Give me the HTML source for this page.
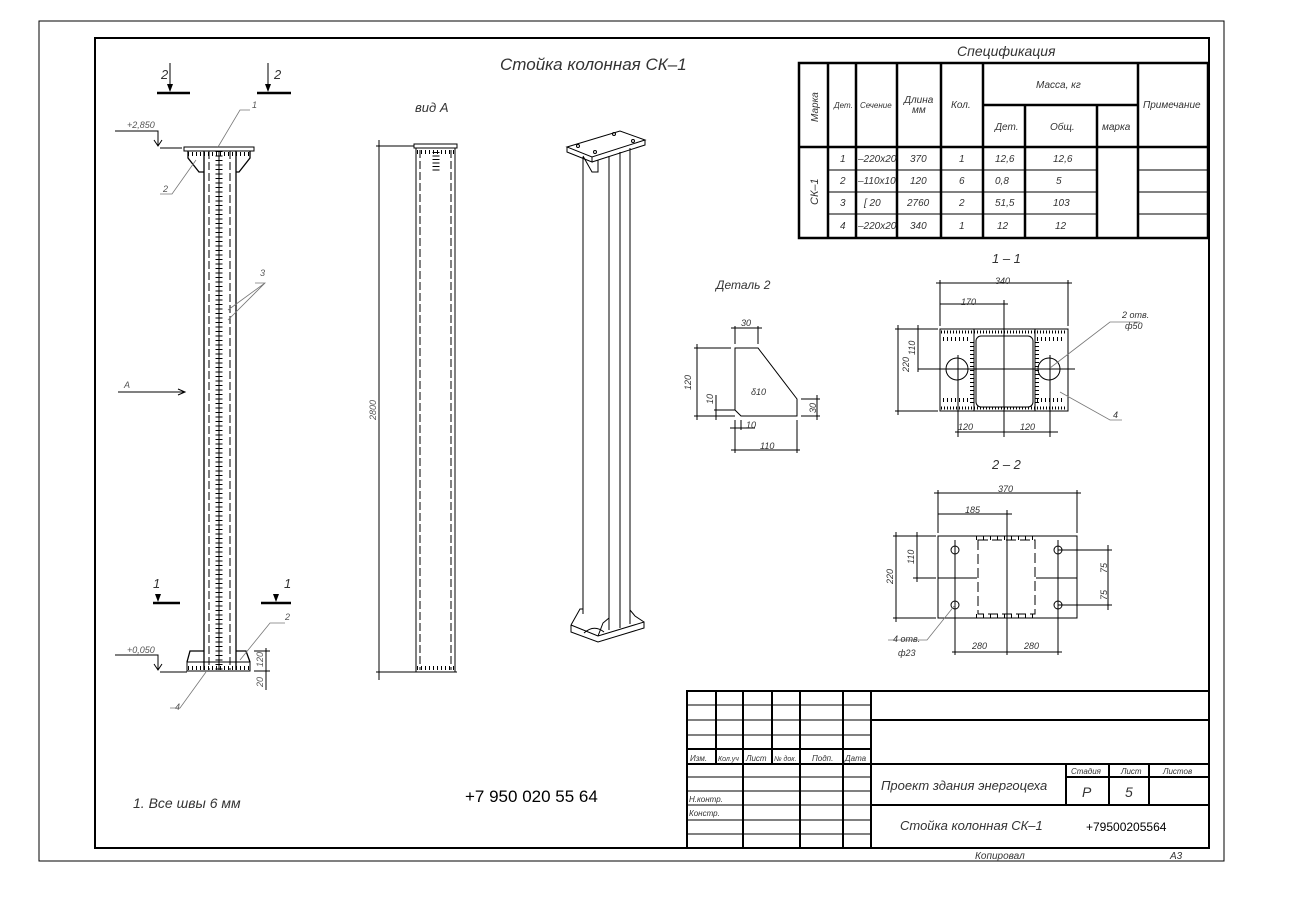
<!DOCTYPE html>
<html><head><meta charset="utf-8"><style>
body{margin:0;background:#fff}
svg{display:block}
text{font-family:"Liberation Sans",sans-serif;font-style:italic;fill:#333}
.t{stroke:#000;stroke-width:1;fill:none}
.k{stroke:#000;stroke-width:2.5;fill:none}
.g{stroke:#777;stroke-width:0.8;fill:none}
.d{stroke:#000;stroke-width:1;fill:none;stroke-dasharray:8 3}
.dim{font-size:9px;fill:#555}
</style></head><body>
<svg width="1306" height="916" viewBox="0 0 1306 916" xmlns="http://www.w3.org/2000/svg">
<rect x="39" y="21" width="1185" height="840" class="t"/>
<rect x="95" y="38" width="1114" height="810" class="k" style="stroke-width:2"/>
<text x="975" y="859" font-size="10">Копировал</text>
<text x="1170" y="859" font-size="10">А3</text>

<text x="500" y="70" font-size="17">Стойка колонная СК–1</text>

<text x="957" y="56" font-size="14">Спецификация</text>
<g class="k">
<rect x="799" y="63" width="409" height="175"/>
<line x1="828" y1="63" x2="828" y2="238"/><line x1="856" y1="63" x2="856" y2="238"/>
<line x1="897" y1="63" x2="897" y2="238"/><line x1="941" y1="63" x2="941" y2="238"/>
<line x1="983" y1="63" x2="983" y2="238"/><line x1="1138" y1="63" x2="1138" y2="238"/>
<line x1="1025" y1="105" x2="1025" y2="238"/><line x1="1097" y1="105" x2="1097" y2="238"/>
<line x1="983" y1="105" x2="1138" y2="105"/>
<line x1="799" y1="147" x2="1208" y2="147"/>
</g>
<g class="t">
<line x1="828" y1="170" x2="1097" y2="170"/><line x1="828" y1="192" x2="1097" y2="192"/><line x1="828" y1="214" x2="1097" y2="214"/>
<line x1="1138" y1="170" x2="1208" y2="170"/><line x1="1138" y1="192" x2="1208" y2="192"/><line x1="1138" y1="214" x2="1208" y2="214"/>
</g>
<g font-size="10">
<text transform="translate(818,122) rotate(-90)">Марка</text>
<text x="834" y="108" font-size="8">Дет.</text>
<text x="860" y="108" font-size="8">Сечение</text>
<text x="904" y="103">Длина</text><text x="912" y="113">мм</text>
<text x="951" y="108">Кол.</text>
<text x="1036" y="88">Масса, кг</text>
<text x="995" y="130">Дет.</text><text x="1050" y="130">Общ.</text><text x="1102" y="130">марка</text>
<text x="1143" y="108">Примечание</text>
<text transform="translate(818,205) rotate(-90)" font-size="11">СК–1</text>
<text x="840" y="162">1</text><text x="858" y="162">–220х20</text><text x="910" y="162">370</text><text x="959" y="162">1</text><text x="995" y="162">12,6</text><text x="1053" y="162">12,6</text>
<text x="840" y="184">2</text><text x="858" y="184">–110х10</text><text x="910" y="184">120</text><text x="959" y="184">6</text><text x="995" y="184">0,8</text><text x="1056" y="184">5</text>
<text x="840" y="206">3</text><text x="864" y="206">[ 20</text><text x="907" y="206">2760</text><text x="959" y="206">2</text><text x="995" y="206">51,5</text><text x="1053" y="206">103</text>
<text x="840" y="229">4</text><text x="858" y="229">–220х20</text><text x="910" y="229">340</text><text x="959" y="229">1</text><text x="997" y="229">12</text><text x="1055" y="229">12</text>
</g>

<!-- Main column -->
<g class="t">
<path d="M170 63 V91"/><path d="M268 63 V91"/>
<path d="M158 594 V601"/><path d="M276 594 V601"/>
<path d="M115 131 H158 V145" /><path d="M115 655 H158 V669"/>
<path d="M154 140 L158 146 L162 140 M154 664 L158 670 L162 664"/>
<line x1="160" y1="148" x2="182" y2="148"/><line x1="160" y1="672" x2="187" y2="672"/>
<rect x="184" y="147" width="70" height="4"/>
<path d="M188 151 V158 L199 172 H204 M250 151 V158 L239 172 H236" stroke-width="1.3"/>
<line x1="204" y1="151" x2="204" y2="670" stroke-width="1.3"/><line x1="236" y1="151" x2="236" y2="670" stroke-width="1.3"/>
<line x1="219" y1="151" x2="219" y2="670"/>
<path d="M187 662 L190 651 H204 M250 662 L246 651 H236" stroke-width="1.3"/>
<rect x="187" y="662" width="63" height="9"/>
</g>
<g stroke="#000" stroke-width="2.5">
<line x1="157" y1="93" x2="190" y2="93"/><line x1="257" y1="93" x2="291" y2="93"/>
<line x1="153" y1="603" x2="180" y2="603"/><line x1="261" y1="603" x2="291" y2="603"/>
</g>
<g fill="#000"><path d="M167 84 L173 84 L170 92 Z"/><path d="M265 84 L271 84 L268 92 Z"/><path d="M155 594 L161 594 L158 602 Z"/><path d="M273 594 L279 594 L276 602 Z"/></g>
<path d="M219 151 V670" stroke="#000" stroke-width="7" stroke-dasharray="1 3.5" fill="none"/>
<line class="d" x1="209" y1="151" x2="209" y2="670"/><line class="d" x1="230" y1="151" x2="230" y2="670"/>
<path d="M188 154 H250" stroke="#000" stroke-width="4" stroke-dasharray="1 3" fill="none"/>
<path d="M188 668 H250" stroke="#000" stroke-width="4" stroke-dasharray="1 3" fill="none"/>
<g class="g">
<path d="M250 110 H240 L218 147"/><path d="M160 194 H172 L196 160"/>
<path d="M255 283 H265 L228 320 M265 283 L228 310"/>
<path d="M285 623 H270 L240 660"/><path d="M170 708 H180 L206 672"/>
</g>
<text class="dim" x="252" y="108">1</text><text class="dim" x="163" y="192">2</text><text class="dim" x="260" y="276">3</text>
<text class="dim" x="285" y="620">2</text><text class="dim" x="175" y="710">4</text>
<text class="dim" x="127" y="128">+2,850</text><text class="dim" x="127" y="653">+0,050</text>
<g font-size="13" fill="#000"><text x="161" y="79">2</text><text x="274" y="79">2</text><text x="153" y="588">1</text><text x="284" y="588">1</text></g>
<path d="M118 392 H184 M178 389 L185 392 L178 395" class="t"/><text class="dim" x="124" y="388" font-size="10">A</text>
<path d="M254 651 H270 M254 671 H270 M266 648 V690" class="t"/>
<text class="dim" transform="translate(263,667) rotate(-90)">120</text>
<text class="dim" transform="translate(263,687) rotate(-90)">20</text>

<!-- View A -->
<text x="415" y="112" font-size="13">вид А</text>
<g class="t">
<path d="M376 146 H414 M376 672 H414 M379 140 V680"/>
<rect x="414" y="144" width="43" height="4"/>
<line x1="416" y1="148" x2="416" y2="672"/><line x1="455" y1="148" x2="455" y2="672"/>
<line x1="414" y1="672" x2="457" y2="672"/>
</g>
<line class="d" x1="420" y1="150" x2="420" y2="670"/><line class="d" x1="451" y1="150" x2="451" y2="670"/>
<path d="M436 152 V172" stroke="#000" stroke-width="7" stroke-dasharray="1 2.5" fill="none"/>
<path d="M417 152 H454 M417 668 H454" stroke="#000" stroke-width="4" stroke-dasharray="1 3" fill="none"/>
<text class="dim" transform="translate(376,420) rotate(-90)">2800</text>

<!-- 3D view -->
<g class="t">
<path d="M567 147 L620 131 L645 140 L592 157 Z M567 147 V152 L592 162 V157 M592 162 L645 145 V140"/>
<circle cx="578" cy="146" r="1.5"/><circle cx="595" cy="152" r="1.5"/><circle cx="614" cy="134" r="1.5"/><circle cx="633" cy="141" r="1.5"/>
<path d="M583 157 V614 M609 156 V630 M620 152 V628 M630 148 V624"/>
<path d="M583 156 L592 172 L598 172 V160"/>
<path d="M571 625 L580 609 H583 M571 625 V632 L598 642 L644 628 V622 L598 636 L571 625"/>
<path d="M598 636 L603 623 L609 618 M630 610 L635 616 L644 622"/>
<path d="M584 633 Q594 624 604 632"/>
</g>

<!-- Detail 2 -->
<text x="716" y="289" font-size="12">Деталь 2</text>
<g class="t">
<path d="M735 348 H758 L797 399 V416 H741 L735 410 Z"/>
<path d="M735 344 V326 M758 344 V326 M731 328 H762"/>
<path d="M694 348 H731 M697 344 V420 M694 416 H735 M714 410 H735 M716 395 V420"/>
<path d="M801 399 H820 M801 416 H820 M817 395 V420"/>
<path d="M735 420 V453 M797 420 V453 M731 450 H800"/>
<path d="M741 420 V430 M730 428 H755"/>
</g>
<g class="dim"><text x="741" y="326">30</text><text transform="translate(691,390) rotate(-90)">120</text>
<text transform="translate(713,404) rotate(-90)">10</text><text x="746" y="428">10</text><text x="751" y="395">δ10</text>
<text transform="translate(816,413) rotate(-90)">30</text><text x="760" y="449">110</text></g>

<!-- Section 1-1 -->
<text x="992" y="263" font-size="13">1 – 1</text>
<g class="t">
<rect x="940" y="329" width="128" height="82"/>
<rect x="976" y="336" width="57" height="71" rx="5"/>
<line x1="974" y1="329" x2="974" y2="411"/><line x1="1035" y1="329" x2="1035" y2="411"/>
<circle cx="957" cy="369" r="11"/><circle cx="1049" cy="369" r="11"/>
<path d="M918 369 H1075 M958 355 V437 M1004 300 V437 M1050 355 V437"/>
<path d="M940 326 V280 M1068 326 V280 M936 283 H1072 M940 304 H1008"/>
<path d="M895 329 H938 M895 411 H938 M898 325 V415 M918 325 V372 M914 329 H938"/>
<path d="M955 432 H1058"/>
</g>
<path d="M941 332 H1067 M941 408 H1067" stroke="#000" stroke-width="3" stroke-dasharray="1 2" fill="none"/>
<path d="M943 339 H970 M1037 339 H1065 M943 400 H970 M1037 400 H1065" stroke="#000" stroke-width="4" stroke-dasharray="1 3" fill="none"/>
<path d="M972 342 V405 M1037 342 V405" stroke="#000" stroke-width="4" stroke-dasharray="1 3" fill="none"/>
<path class="g" d="M1050 368 L1110 322 H1140 M1060 392 L1110 420 H1122"/>
<g class="dim"><text x="995" y="284">340</text><text x="961" y="305">170</text><text transform="translate(909,372) rotate(-90)">220</text>
<text transform="translate(915,355) rotate(-90)">110</text><text x="958" y="430">120</text><text x="1020" y="430">120</text>
<text x="1122" y="318">2 отв.</text><text x="1125" y="329">ф50</text><text x="1113" y="418">4</text></g>

<!-- Section 2-2 -->
<text x="992" y="469" font-size="13">2 – 2</text>
<g class="t">
<rect x="938" y="536" width="139" height="82"/>
<path d="M978 540 H1035 V614 H978 Z" stroke-dasharray="10 4"/>
<line x1="938" y1="578" x2="977" y2="578"/><line x1="1036" y1="578" x2="1077" y2="578"/>
<circle cx="955" cy="550" r="4"/><circle cx="1058" cy="550" r="4"/><circle cx="955" cy="605" r="4"/><circle cx="1058" cy="605" r="4"/>
<path d="M955 540 V655 M1007 510 V655 M1058 540 V655 M1058 550 H1112 M1058 605 H1112 M1108 545 V610"/>
<path d="M938 533 V490 M1077 533 V490 M934 493 H1081 M938 514 H1012"/>
<path d="M893 536 H936 M893 618 H936 M896 532 V622 M917 532 V582 M913 578 H936"/>
<path d="M952 652 H1062"/>
</g>
<path d="M976 538 H1037 M976 616 H1037" stroke="#000" stroke-width="4" stroke-dasharray="1 6" fill="none"/>
<path class="g" d="M955 605 L927 640 H888"/>
<g class="dim"><text x="998" y="492">370</text><text x="965" y="513">185</text><text transform="translate(893,584) rotate(-90)">220</text>
<text transform="translate(914,564) rotate(-90)">110</text><text x="972" y="649">280</text><text x="1024" y="649">280</text>
<text transform="translate(1107,573) rotate(-90)">75</text><text transform="translate(1107,600) rotate(-90)">75</text>
<text x="893" y="642">4 отв.</text><text x="898" y="656">ф23</text></g>

<text x="133" y="808" font-size="14" fill="#222">1.  Все швы 6 мм</text>
<text x="465" y="802" font-size="17" style="font-style:normal;fill:#000">+7 950 020 55 64</text>

<!-- Title block -->
<g class="k" style="stroke-width:2">
<rect x="687" y="691" width="522" height="157"/>
<line x1="871" y1="691" x2="871" y2="848"/>
<line x1="871" y1="720" x2="1209" y2="720"/><line x1="871" y1="764" x2="1209" y2="764"/><line x1="871" y1="805" x2="1209" y2="805"/>
<line x1="1066" y1="764" x2="1066" y2="805"/><line x1="1066" y1="777" x2="1209" y2="777"/>
<line x1="1109" y1="764" x2="1109" y2="805"/><line x1="1149" y1="764" x2="1149" y2="805"/>
<line x1="687" y1="749" x2="871" y2="749"/><line x1="687" y1="764" x2="871" y2="764"/>
<line x1="743" y1="691" x2="743" y2="848"/><line x1="843" y1="691" x2="843" y2="848"/><line x1="800" y1="691" x2="800" y2="848"/>
<line x1="716" y1="691" x2="716" y2="764"/><line x1="772" y1="691" x2="772" y2="764"/>
</g>
<g class="t">
<line x1="687" y1="705" x2="871" y2="705"/><line x1="687" y1="720" x2="871" y2="720"/><line x1="687" y1="735" x2="871" y2="735"/>
<line x1="687" y1="777" x2="871" y2="777"/><line x1="687" y1="791" x2="871" y2="791"/><line x1="687" y1="805" x2="871" y2="805"/>
<line x1="687" y1="820" x2="871" y2="820"/><line x1="687" y1="834" x2="871" y2="834"/>
</g>
<g font-size="8" fill="#222">
<text x="690" y="761">Изм.</text><text x="718" y="761" font-size="7">Кол.уч</text><text x="746" y="761">Лист</text><text x="774" y="761" font-size="7">№ док.</text>
<text x="812" y="761">Подп.</text><text x="845" y="761">Дата</text>
<text x="689" y="802">Н.контр.</text><text x="689" y="816">Констр.</text>
<text x="1071" y="774">Стадия</text><text x="1121" y="774">Лист</text><text x="1163" y="774">Листов</text>
</g>
<text x="881" y="790" font-size="13">Проект здания энергоцеха</text>
<text x="900" y="830" font-size="13">Стойка колонная СК–1</text>
<text x="1082" y="797" font-size="14">Р</text><text x="1125" y="797" font-size="14">5</text>
<text x="1086" y="831" font-size="12" style="font-style:normal;fill:#000">+79500205564</text>
</svg>
</body></html>
